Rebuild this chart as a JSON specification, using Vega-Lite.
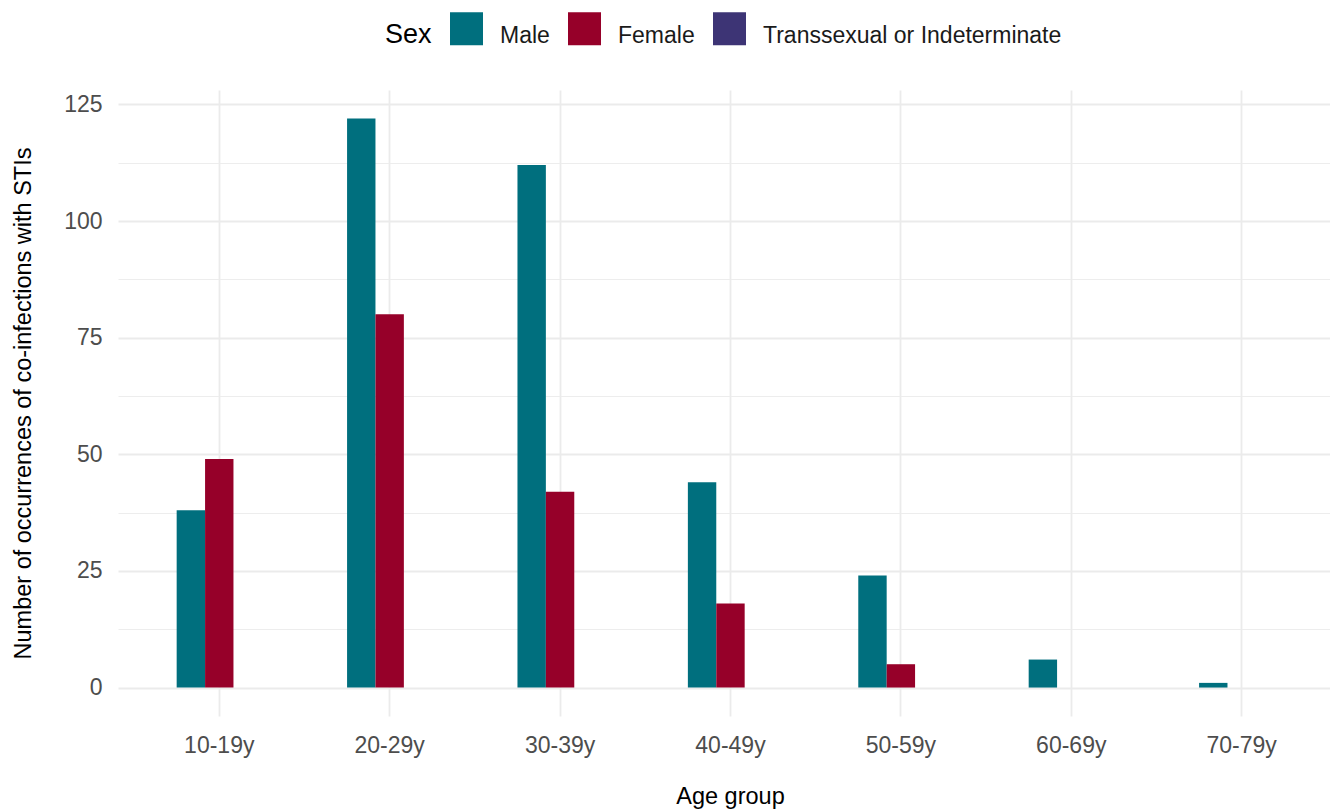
{
  "$schema": "https://vega.github.io/schema/vega-lite/v6.json",
  "width": 1212,
  "height": 626,
  "autosize": {"type": "none"},
  "padding": {"left": 118, "top": 90, "right": 0, "bottom": 93},
  "background": "white",
  "config": {
    "view": {"stroke": null},
    "font": "Liberation Sans",
    "style": {
      "guide-label": {"lineHeight": 14},
      "guide-title": {"lineHeight": 10}
    }
  },
  "data": {
    "values": [
      {"age_group": "10-19y", "sex": "Male", "count": 38},
      {"age_group": "10-19y", "sex": "Female", "count": 49},
      {"age_group": "20-29y", "sex": "Male", "count": 122},
      {"age_group": "20-29y", "sex": "Female", "count": 80},
      {"age_group": "30-39y", "sex": "Male", "count": 112},
      {"age_group": "30-39y", "sex": "Female", "count": 42},
      {"age_group": "40-49y", "sex": "Male", "count": 44},
      {"age_group": "40-49y", "sex": "Female", "count": 18},
      {"age_group": "50-59y", "sex": "Male", "count": 24},
      {"age_group": "50-59y", "sex": "Female", "count": 5},
      {"age_group": "60-69y", "sex": "Male", "count": 6},
      {"age_group": "70-79y", "sex": "Male", "count": 1}
    ]
  },
  "mark": {"type": "bar"},
  "encoding": {
    "x": {
      "field": "age_group",
      "type": "nominal",
      "sort": ["10-19y", "20-29y", "30-39y", "40-49y", "50-59y", "60-69y", "70-79y"],
      "scale": {
        "domain": ["10-19y", "20-29y", "30-39y", "40-49y", "50-59y", "60-69y", "70-79y"],
        "paddingInner": 0.5,
        "paddingOuter": 0.3063,
        "align": 0.562,
        "round": false
      },
      "axis": {
        "title": "Age group",
        "labelAngle": 0,
        "grid": true,
        "gridColor": "#EBEBEB",
        "gridWidth": 1.8,
        "bandPosition": 0.5,
        "domain": false,
        "ticks": false,
        "labelFontSize": 23,
        "labelColor": "#4D4D4D",
        "labelPadding": 18,
        "titleFontSize": 23.5,
        "titleColor": "#000000",
        "titleFontWeight": "normal",
        "titleX": 612,
        "titlePadding": 27
      }
    },
    "xOffset": {
      "field": "sex",
      "type": "nominal",
      "scale": {
        "domain": ["Male", "Female", "Transsexual or Indeterminate"],
        "paddingInner": 0,
        "paddingOuter": 0
      }
    },
    "y": {
      "field": "count",
      "type": "quantitative",
      "scale": {"domain": [-6.1, 128.1], "nice": false, "zero": false},
      "axis": {
        "title": "Number of occurrences of co-infections with STIs",
        "values": [0, 12.5, 25, 37.5, 50, 62.5, 75, 87.5, 100, 112.5, 125],
        "labelExpr": "datum.value % 25 === 0 ? datum.label : ''",
        "grid": true,
        "gridColor": "#EBEBEB",
        "gridWidth": {"condition": {"test": "datum.value % 25 !== 0", "value": 0.9}, "value": 1.8},
        "domain": false,
        "ticks": false,
        "labelFlush": false,
        "labelOverlap": false,
        "labelFontSize": 23,
        "labelColor": "#4D4D4D",
        "labelPadding": 16,
        "titleFontSize": 23.5,
        "titleColor": "#000000",
        "titleFontWeight": "normal",
        "titlePadding": 28
      }
    },
    "color": {
      "field": "sex",
      "type": "nominal",
      "scale": {
        "domain": ["Male", "Female", "Transsexual or Indeterminate"],
        "range": ["#006F7E", "#960029", "#3D3475"]
      },
      "legend": {
        "orient": "none",
        "legendX": 267,
        "legendY": -78,
        "direction": "horizontal",
        "title": "Sex",
        "titleOrient": "left",
        "titleFontSize": 27,
        "titleFontWeight": "normal",
        "titleColor": "#000000",
        "titlePadding": 18,
        "titleBaseline": "line-top",
        "labelBaseline": "line-top",
        "labelFontSize": 23,
        "labelColor": "#1A1A1A",
        "labelLimit": 0,
        "symbolType": "square",
        "symbolSize": 1089,
        "symbolStrokeWidth": 0,
        "symbolOpacity": 1,
        "labelOffset": 17,
        "columnPadding": 18,
        "padding": 0
      }
    }
  }
}
